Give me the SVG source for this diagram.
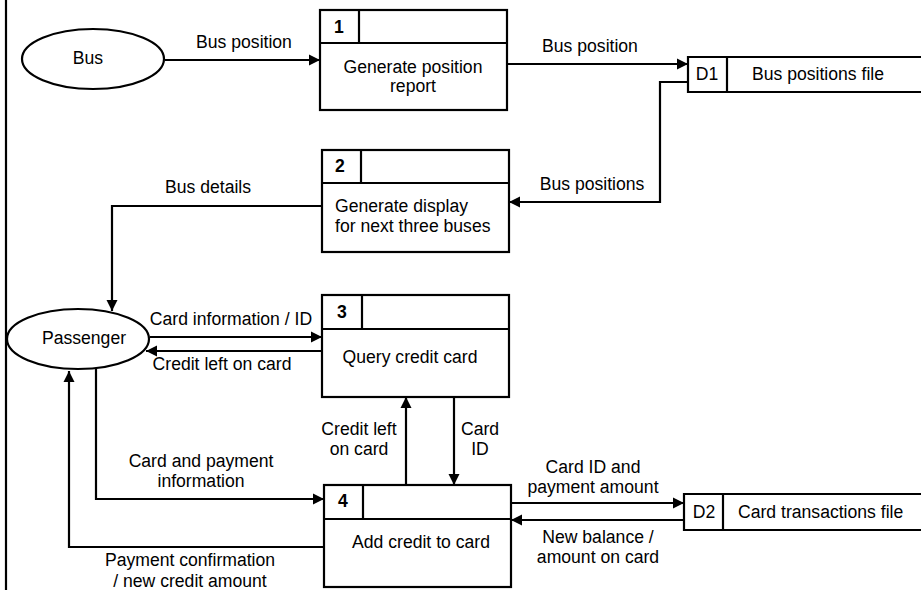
<svg xmlns="http://www.w3.org/2000/svg" width="921" height="590" viewBox="0 0 921 590">
<style>
text{font-family:"Liberation Sans",Arial,sans-serif;font-size:17.6px;fill:#000}
.c{text-anchor:middle}
.n{font-weight:bold}
.box{fill:#fff;stroke:#000;stroke-width:2.2}
.ln{fill:none;stroke:#000;stroke-width:2.2}
.e{fill:#fff;stroke:#000;stroke-width:2.2}
</style>
<defs>
<marker id="ah" markerUnits="userSpaceOnUse" markerWidth="12" markerHeight="12" refX="11" refY="6" orient="auto">
<path d="M0,0.5 L11,6 L0,11.5 z" fill="#000"/>
</marker>
</defs>
<rect width="921" height="590" fill="#fff"/>
<line x1="6" y1="0" x2="6" y2="590" class="ln"/>

<g id="connectors" class="ln" marker-end="url(#ah)">
<path d="M165,60 L320,60"/>
<path d="M507,64 L688,64"/>
<path d="M688,82 L660,82 L660,202 L509,202"/>
<path d="M322,206 L112,206 L112,311"/>
<path d="M150,337 L322,337"/>
<path d="M322,351 L146,351"/>
<path d="M406,485 L406,397"/>
<path d="M454,397 L454,485"/>
<path d="M96,368 L96,499 L324,499"/>
<path d="M324,547 L69,547 L69,371"/>
<path d="M511,503 L684,503"/>
<path d="M684,520 L511,520"/>
</g>

<g id="labels">
<text x="244" y="48" class="c">Bus position</text>
<text x="590" y="52" class="c">Bus position</text>
<text x="592" y="190" class="c">Bus positions</text>
<text x="208" y="193" class="c">Bus details</text>
<text x="231" y="325" class="c">Card information / ID</text>
<text x="222" y="370" class="c">Credit left on card</text>
<text x="359" y="435" class="c">Credit left</text>
<text x="359" y="455" class="c">on card</text>
<text x="480" y="435" class="c">Card</text>
<text x="480" y="455" class="c">ID</text>
<text x="201" y="467" class="c">Card and payment</text>
<text x="201" y="487" class="c">information</text>
<text x="190" y="566" class="c">Payment confirmation</text>
<text x="190" y="587" class="c">/ new credit amount</text>
<text x="593" y="473" class="c">Card ID and</text>
<text x="593" y="493" class="c">payment amount</text>
<text x="598" y="543" class="c">New balance /</text>
<text x="598" y="563" class="c">amount on card</text>
</g>

<g id="bus">
<ellipse cx="93" cy="59" rx="71" ry="30" class="e"/>
<text x="88" y="64" class="c">Bus</text>
</g>

<g id="passenger">
<ellipse cx="78" cy="339" rx="71" ry="30" class="e"/>
<text x="84" y="344" class="c">Passenger</text>
</g>

<g id="p1">
<rect x="320" y="10" width="187" height="100" class="box"/>
<line x1="320" y1="43" x2="507" y2="43" class="ln"/>
<line x1="359" y1="10" x2="359" y2="43" class="ln"/>
<text x="339" y="33" class="c n">1</text>
<text x="413" y="73" class="c">Generate position</text>
<text x="413" y="92" class="c">report</text>
</g>

<g id="p2">
<rect x="322" y="150" width="187" height="102" class="box"/>
<line x1="322" y1="183" x2="509" y2="183" class="ln"/>
<line x1="361" y1="150" x2="361" y2="183" class="ln"/>
<text x="340" y="172" class="c n">2</text>
<text x="335" y="212">Generate display</text>
<text x="335" y="232">for next three buses</text>
</g>

<g id="p3">
<rect x="322" y="295" width="187" height="102" class="box"/>
<line x1="322" y1="329" x2="509" y2="329" class="ln"/>
<line x1="362" y1="295" x2="362" y2="329" class="ln"/>
<text x="342" y="318" class="c n">3</text>
<text x="410" y="363" class="c">Query credit card</text>
</g>

<g id="p4">
<rect x="324" y="485" width="187" height="102" class="box"/>
<line x1="324" y1="519" x2="511" y2="519" class="ln"/>
<line x1="363" y1="485" x2="363" y2="519" class="ln"/>
<text x="343" y="507" class="c n">4</text>
<text x="421" y="548" class="c">Add credit to card</text>
</g>

<g id="d1">
<path d="M923,57 L688,57 L688,92 L923,92" class="ln"/>
<line x1="727" y1="57" x2="727" y2="92" class="ln"/>
<text x="707" y="80" class="c">D1</text>
<text x="752" y="80">Bus positions file</text>
</g>

<g id="d2">
<path d="M923,494 L684,494 L684,530 L923,530" class="ln"/>
<line x1="723" y1="494" x2="723" y2="530" class="ln"/>
<text x="704" y="518" class="c">D2</text>
<text x="738" y="518">Card transactions file</text>
</g>
</svg>
